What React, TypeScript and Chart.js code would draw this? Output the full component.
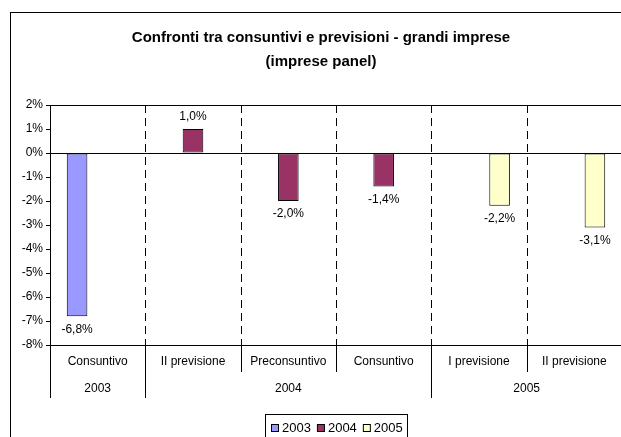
import React, { useEffect, useRef } from 'react';
import { Chart, registerables } from 'chart.js';

Chart.register(...registerables);

const titleLines = ['Confronti tra consuntivi e previsioni - grandi imprese', '(imprese panel)'];
const categories = ['Consuntivo', 'II previsione', 'Preconsuntivo', 'Consuntivo', 'I previsione', 'II previsione'];
const groupLabels = ['2003', '2004', '2005'];
const groupSizes = [1, 3, 2];
const seriesLabels = ['2003', '2004', '2005'];
const series2003 = [-6.8, null, null, null, null, null];
const series2004 = [null, 1.0, -2.0, -1.4, null, null];
const series2005 = [null, null, null, null, -2.2, -3.1];
const seriesColors = ['#9999FF', '#993366', '#FFFFCC'];
const yMin = -8;
const yMax = 2;
const yStep = 1;

const FONT = '"Liberation Sans", Arial, Helvetica, sans-serif';

const fmt = (v: number) => v.toFixed(1).replace('.', ',') + '%';

const decor = {
  id: 'decor',
  beforeDatasetsDraw(chart: any) {
    const { ctx, chartArea: a, scales } = chart;
    const x = scales.x;
    const y = scales.y;
    ctx.save();
    ctx.strokeStyle = '#000';
    ctx.lineWidth = 1;
    ctx.setLineDash([8, 5]);
    for (let i = 1; i < categories.length; i++) {
      const bx = Math.round((x.getPixelForValue(i - 1) + x.getPixelForValue(i)) / 2) + 0.5;
      ctx.beginPath();
      ctx.moveTo(bx, a.top);
      ctx.lineTo(bx, a.bottom);
      ctx.stroke();
    }
    ctx.setLineDash([]);
    const y0 = Math.round(y.getPixelForValue(0)) + 0.5;
    ctx.beginPath();
    ctx.moveTo(a.left, y0);
    ctx.lineTo(a.right, y0);
    ctx.stroke();
    ctx.strokeRect(a.left + 0.5, a.top + 0.5, a.right - a.left, a.bottom - a.top);
    ctx.restore();
  },
  afterDatasetsDraw(chart: any) {
    const { ctx } = chart;
    ctx.save();
    ctx.fillStyle = '#000';
    ctx.font = `12px ${FONT}`;
    ctx.textAlign = 'center';
    ctx.textBaseline = 'middle';
    chart.data.datasets.forEach((ds: any, di: number) => {
      const meta = chart.getDatasetMeta(di);
      meta.data.forEach((el: any, i: number) => {
        const v = ds.data[i];
        if (v === null || v === undefined) return;
        const ty = v >= 0 ? el.y - 12 : el.y + 13;
        ctx.fillText(fmt(v), el.x, ty);
      });
    });
    ctx.restore();
  },
  afterDraw(chart: any) {
    const { ctx, chartArea: a, scales } = chart;
    const x = scales.x;
    ctx.save();
    // outer frame
    ctx.strokeStyle = '#000';
    ctx.lineWidth = 1;
    ctx.strokeRect(10.5, 12.5, 622, 470);
    // title
    ctx.fillStyle = '#000';
    ctx.textAlign = 'center';
    ctx.textBaseline = 'middle';
    ctx.font = `bold 15px ${FONT}`;
    ctx.fillText(titleLines[0], 321, 38);
    ctx.fillText(titleLines[1], 321, 62);
    // category labels
    const boundary = (i: number) => {
      if (i <= 0) return a.left;
      if (i >= categories.length) return a.right;
      return (x.getPixelForValue(i - 1) + x.getPixelForValue(i)) / 2;
    };
    ctx.font = `12px ${FONT}`;
    categories.forEach((c, i) => {
      ctx.fillText(c, x.getPixelForValue(i), 362);
    });
    // separators
    const groupStarts: number[] = [];
    let acc = 0;
    groupSizes.forEach((s) => {
      groupStarts.push(acc);
      acc += s;
    });
    groupStarts.push(acc);
    for (let i = 0; i <= categories.length; i++) {
      const bx = Math.round(boundary(i)) + 0.5;
      const long = groupStarts.includes(i);
      ctx.beginPath();
      ctx.moveTo(bx, a.bottom);
      ctx.lineTo(bx, long ? 398 : 372);
      ctx.stroke();
    }
    groupLabels.forEach((g, gi) => {
      const l = boundary(groupStarts[gi]);
      const r = boundary(groupStarts[gi + 1]);
      ctx.fillText(g, (l + r) / 2, 389);
    });
    // legend
    ctx.font = `13px ${FONT}`;
    ctx.textAlign = 'left';
    let lx = 271;
    const items = chart.data.datasets.map((ds: any) => ({ label: ds.label, color: ds.backgroundColor }));
    items.forEach((it: any) => {
      ctx.fillStyle = it.color;
      ctx.fillRect(lx + 0.5, 424.5, 7, 7);
      ctx.strokeStyle = '#000';
      ctx.strokeRect(lx + 0.5, 424.5, 7, 7);
      ctx.fillStyle = '#000';
      ctx.fillText(it.label, lx + 11, 428);
      lx += 11 + ctx.measureText(it.label).width + 6;
    });
    ctx.strokeStyle = '#000';
    ctx.strokeRect(265.5, 414.5, 142, 28);
    ctx.restore();
  },
};

export default function App() {
  const ref = useRef<HTMLCanvasElement | null>(null);
  useEffect(() => {
    if (!ref.current) return;
    const chart = new Chart(ref.current, {
      type: 'bar',
      data: {
        labels: categories,
        datasets: [series2003, series2004, series2005].map((d, i) => ({
          label: seriesLabels[i],
          data: d,
          backgroundColor: seriesColors[i],
          borderColor: '#000',
          borderWidth: 1,
          borderSkipped: false,
          categoryPercentage: 0.648,
          barPercentage: 1,
        })),
      },
      options: {
        animation: false,
        responsive: false,
        devicePixelRatio: 1,
        layout: { padding: { top: 105, left: 0, right: 18, bottom: 0 } },
        plugins: {
          legend: { display: false },
          title: { display: false },
          tooltip: { enabled: false },
        },
        scales: {
          x: {
            offset: true,
            ticks: { display: false },
            grid: { display: false },
            border: { display: false },
            afterFit: (s: any) => {
              s.height = 115;
            },
          },
          y: {
            min: yMin,
            max: yMax,
            ticks: {
              stepSize: yStep,
              color: '#000',
              padding: 3,
              font: { family: FONT, size: 12 },
              callback: (v: any) => `${v}%`,
            },
            grid: { drawOnChartArea: false, drawTicks: true, tickLength: 4, color: '#000', tickColor: '#000' },
            border: { display: false },
            afterFit: (s: any) => {
              s.width = 50;
            },
          },
        },
      },
      plugins: [decor],
    });
    return () => chart.destroy();
  }, []);
  return (
    <div style={{ position: 'fixed', left: 0, top: 0, width: 621, height: 437, overflow: 'hidden', background: '#fff' }}>
      <canvas ref={ref} width={640} height={460} style={{ display: 'block', width: 640, height: 460 }} />
    </div>
  );
}
